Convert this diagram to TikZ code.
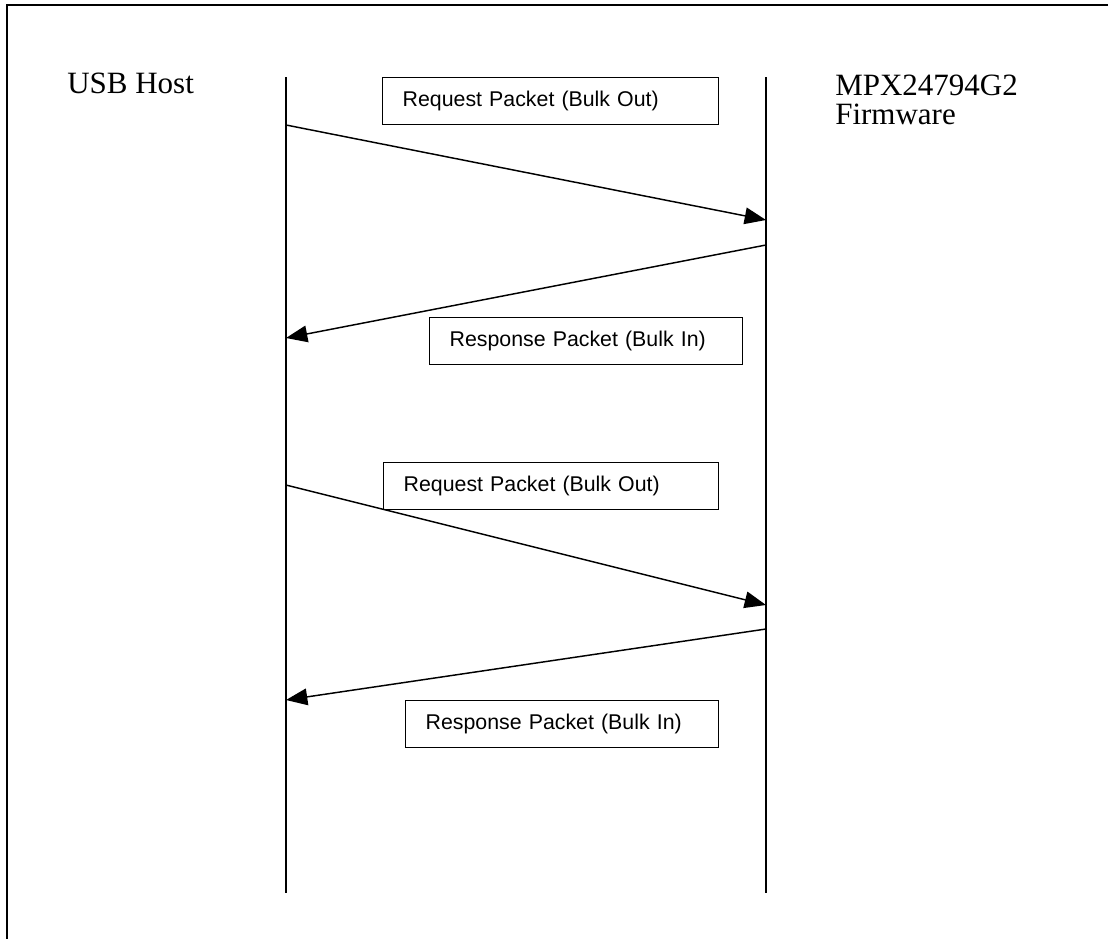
\documentclass[tikz,border=0pt]{standalone}
\usepackage{fontspec}
\setmainfont{Liberation Serif}
\newfontfamily\boxfont{Liberation Sans}
\usetikzlibrary{arrows.meta}

\begin{document}
\begin{tikzpicture}[x=0.75pt, y=-0.75pt,
  frameline/.style={line width=2.1pt},
  lifeline/.style={line width=1.3pt},
  msg/.style={line width=1.1pt, -{Triangle[length=16pt, width=12.5pt]}},
  packet/.style={draw, line width=1pt, fill=white, anchor=north west,
    minimum height=35.25pt, inner ysep=0pt, inner xsep=15pt,
    text width=#1, align=left, font=\boxfont\fontsize{16}{18}\selectfont},
  party/.style={anchor=base west, inner sep=0pt,
    font=\fontsize{23.25}{28}\selectfont}
]
\useasboundingbox (0,0) rectangle (1110,939);

% page frame (top and left edges)
\draw[frameline] (1108,5) -- (7,5) -- (7,939);

% participants
\node[party] (host) at (67,93) {USB Host};
\node[party] (fw) at (835,95) {MPX24794G2};
\node[party] (fwb) at (835,124) {Firmware};

% lifelines
\coordinate (hTop) at (286,77);
\coordinate (hBot) at (286,893);
\coordinate (fTop) at (766,77);
\coordinate (fBot) at (766,893);
\draw[lifeline] (hTop) -- (hBot);
\draw[lifeline] (fTop) -- (fBot);

% message end points
\coordinate (h1) at (286,125);
\coordinate (f1) at (766,220);
\coordinate (f2) at (766,245);
\coordinate (h2) at (286,338);
\coordinate (h3) at (286,485);
\coordinate (f3) at (766,605);
\coordinate (f4) at (766,629);
\coordinate (h4) at (286,700);

% packet labels
\node[packet=222pt] (req1) at (382,77) {Request Packet (Bulk Out)};
\node[packet=204.75pt] (resp1) at (429,317) {Response Packet (Bulk In)};
\node[packet=221.25pt] (req2) at (383,462) {Request Packet (Bulk Out)};
\node[packet=204.75pt] (resp2) at (405,700) {Response Packet (Bulk In)};

% messages
\draw[msg] (h1) -- (f1);
\draw[msg] (f2) -- (h2);
\draw[msg] (h3) -- (f3);
\draw[msg] (f4) -- (h4);
\end{tikzpicture}
\end{document}
